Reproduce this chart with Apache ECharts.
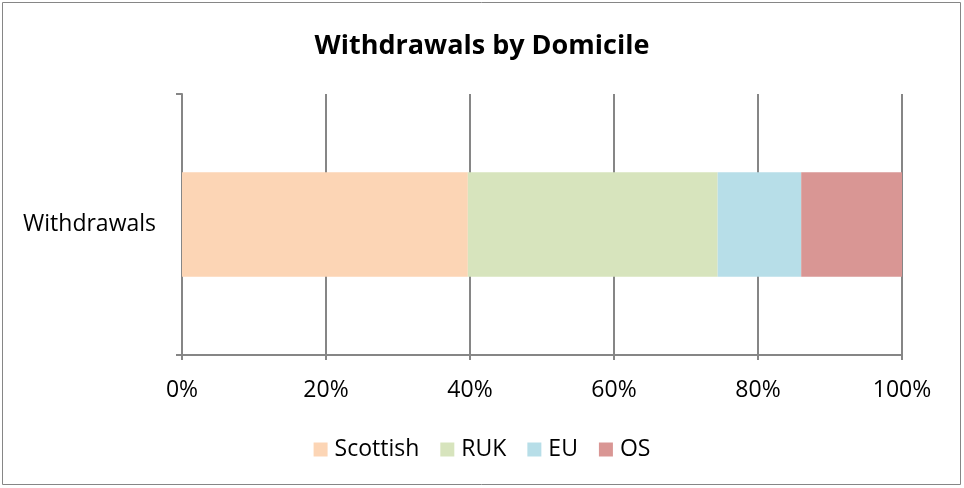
<!DOCTYPE html>
<html><head><meta charset="utf-8">
<script src="https://cdn.jsdelivr.net/npm/echarts@6/dist/echarts.min.js"></script>
<style>html,body{margin:0;padding:0;background:#fff}#c{width:964px;height:488px}</style>
</head><body><div id="c"></div>
<script>
const categories = ['Withdrawals'];
const seriesNames = ['Scottish', 'RUK', 'EU', 'OS'];
const scottish = [39.7];
const ruk = [34.7];
const eu = [11.6];
const os = [14.0];
const colors = ['#FCD5B5', '#D7E4BD', '#B7DEE8', '#D99694'];
const values = [scottish, ruk, eu, os];
const font = '"Open Sans", sans-serif';
const chart = echarts.init(document.getElementById('c'));
chart.setOption({
  animation: false,
  title: { text: 'Withdrawals by Domicile', left: 'center', top: 28,
    textStyle: { fontFamily: font, fontWeight: 'bold', fontSize: 27, color: '#000' } },
  graphic: [{ type: 'rect', shape: { x: 2.5, y: 2.5, width: 958, height: 482 },
    style: { fill: 'none', stroke: '#868686', lineWidth: 1 } }],
  grid: { left: 182, right: 62, top: 94, bottom: 133 },
  legend: { bottom: 22, left: 'center', itemWidth: 14, itemHeight: 14, itemGap: 21, icon: 'rect',
    textStyle: { fontFamily: font, fontSize: 23, color: '#000', padding: [0, 0, 0, 2] },
    data: seriesNames },
  xAxis: { type: 'value', min: 0, max: 100, interval: 20,
    axisLine: { show: true, lineStyle: { color: '#868686', width: 2 } },
    axisTick: { show: true, length: 5, lineStyle: { color: '#868686', width: 2 } },
    splitLine: { show: true, lineStyle: { color: '#868686', width: 2 } },
    axisLabel: { formatter: '{value}%', margin: 24, fontFamily: font, fontSize: 23, color: '#000' } },
  yAxis: { type: 'category', data: categories,
    axisLine: { show: true, lineStyle: { color: '#868686', width: 2 } },
    axisTick: { show: true, length: 6, lineStyle: { color: '#868686', width: 2 } },
    axisLabel: { margin: 26, fontFamily: font, fontSize: 23, color: '#000' } },
  series: seriesNames.map((n, i) => ({
    name: n, type: 'bar', stack: 'total', data: values[i], barWidth: '40%',
    itemStyle: { color: colors[i] }
  }))
});
</script></body></html>
